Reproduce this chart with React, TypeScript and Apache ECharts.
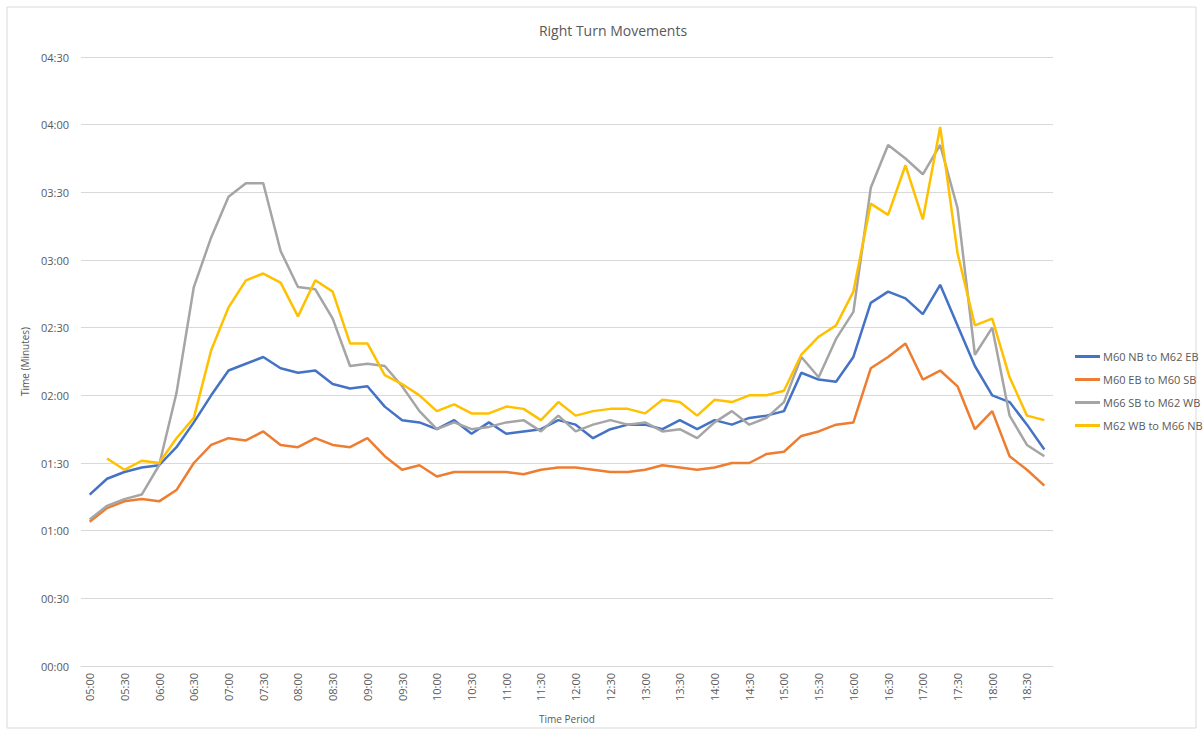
import React, { useEffect, useRef } from "react";
import * as echarts from "echarts";

const categories = [
  "05:00","05:15","05:30","05:45","06:00","06:15","06:30","06:45",
  "07:00","07:15","07:30","07:45","08:00","08:15","08:30","08:45",
  "09:00","09:15","09:30","09:45","10:00","10:15","10:30","10:45",
  "11:00","11:15","11:30","11:45","12:00","12:15","12:30","12:45",
  "13:00","13:15","13:30","13:45","14:00","14:15","14:30","14:45",
  "15:00","15:15","15:30","15:45","16:00","16:15","16:30","16:45",
  "17:00","17:15","17:30","17:45","18:00","18:15","18:30","18:45",
];

// values in seconds
const m60nbToM62eb = [
  76, 83, 86, 88, 89, 97, 108, 120, 131, 134, 137, 132, 130, 131, 125, 123,
  124, 115, 109, 108, 105, 109, 103, 108, 103, 104, 105, 109, 107, 101, 105, 107,
  107, 105, 109, 105, 109, 107, 110, 111, 113, 130, 127, 126, 137, 161, 166, 163,
  156, 169, 151, 133, 120, 117, 107, 96,
];
const m60ebToM60sb = [
  64, 70, 73, 74, 73, 78, 90, 98, 101, 100, 104, 98, 97, 101, 98, 97,
  101, 93, 87, 89, 84, 86, 86, 86, 86, 85, 87, 88, 88, 87, 86, 86,
  87, 89, 88, 87, 88, 90, 90, 94, 95, 102, 104, 107, 108, 132, 137, 143,
  127, 131, 124, 105, 113, 93, 87, 80,
];
const m66sbToM62wb = [
  65, 71, 74, 76, 89, 121, 168, 190, 208, 214, 214, 184, 168, 167, 154, 133,
  134, 133, 124, 113, 105, 108, 105, 106, 108, 109, 104, 111, 104, 107, 109, 107,
  108, 104, 105, 101, 108, 113, 107, 110, 117, 137, 128, 145, 157, 212, 231, 225,
  218, 231, 203, 138, 150, 111, 98, 93,
];
const m62wbToM66nb = [
  null, 92, 87, 91, 90, 101, 110, 140, 159, 171, 174, 170, 155, 171, 166, 143,
  143, 129, 125, 120, 113, 116, 112, 112, 115, 114, 109, 117, 111, 113, 114, 114,
  112, 118, 117, 111, 118, 117, 120, 120, 122, 138, 146, 151, 166, 205, 200, 222,
  198, 239, 183, 151, 154, 128, 111, 109,
];

const seriesNames = [
  "M60 NB to M62 EB",
  "M60 EB to M60 SB",
  "M66 SB to M62 WB",
  "M62 WB to M66 NB",
];
const seriesData = [m60nbToM62eb, m60ebToM60sb, m66sbToM62wb, m62wbToM66nb];
const colors = ["#4472C4", "#ED7D31", "#A5A5A5", "#FFC000"];

const FONT = "'Open Sans', 'Liberation Sans', sans-serif";
const TXT = "#595959";

function fmt(v: number) {
  const m = Math.floor(v / 60);
  const s = Math.round(v - m * 60);
  return String(m).padStart(2, "0") + ":" + String(s).padStart(2, "0");
}

export default function App() {
  const ref = useRef<HTMLDivElement>(null);
  useEffect(() => {
    if (!ref.current) return;
    const chart = echarts.init(ref.current, undefined, { renderer: "svg" });
    chart.setOption({
      animation: false,
      backgroundColor: "#ffffff",
      textStyle: { fontFamily: FONT },
      graphic: [
        {
          type: "rect",
          shape: { x: 7, y: 7, width: 1189, height: 721 },
          style: { fill: "none", stroke: "#d9d9d9", lineWidth: 1 },
          silent: true,
        },
      ],
      title: {
        text: "Right Turn Movements",
        left: 608,
        top: 18,
        textAlign: "center",
        textStyle: { fontFamily: FONT, fontSize: 14, fontWeight: "normal", color: TXT },
      },
      legend: {
        orient: "vertical",
        left: 1070,
        top: 346,
        itemWidth: 25,
        itemHeight: 3,
        itemGap: 12,
        icon: "rect",
        data: seriesNames,
        textStyle: { fontFamily: FONT, fontSize: 11, color: TXT, padding: [0, 0, 0, -2] },
      },
      grid: { left: 81, right: 150, top: 57, bottom: 69, containLabel: false },
      xAxis: {
        type: "category",
        data: categories,
        boundaryGap: true,
        name: "Time Period",
        nameLocation: "middle",
        nameGap: 48,
        nameTextStyle: { fontFamily: FONT, fontSize: 10, color: TXT },
        axisLine: { show: true, lineStyle: { color: "#d9d9d9", width: 1 } },
        axisTick: { show: false },
        axisLabel: {
          interval: 1,
          rotate: 90,
          fontFamily: FONT,
          fontSize: 11,
          color: TXT,
          margin: 7,
        },
        splitLine: { show: false },
      },
      yAxis: {
        type: "value",
        min: 0,
        max: 270,
        interval: 30,
        name: "Time (Minutes)",
        nameLocation: "middle",
        nameGap: 49,
        nameRotate: 90,
        nameTextStyle: { fontFamily: FONT, fontSize: 10, color: TXT },
        axisLine: { show: false },
        axisTick: { show: false },
        axisLabel: {
          formatter: (v: number) => fmt(v),
          fontFamily: FONT,
          fontSize: 11,
          color: TXT,
          margin: 12,
        },
        splitLine: { show: true, lineStyle: { color: "#d9d9d9", width: 1 } },
      },
      series: seriesNames.map((name, i) => ({
        name,
        type: "line",
        data: seriesData[i],
        showSymbol: false,
        symbol: "none",
        connectNulls: false,
        lineStyle: { color: colors[i], width: 2.5 },
        itemStyle: { color: colors[i] },
      })),
    });
    return () => chart.dispose();
  }, []);
  return (
    <div
      ref={ref}
      style={{ position: "absolute", left: 0, top: 0, width: 1203, height: 735 }}
    />
  );
}
